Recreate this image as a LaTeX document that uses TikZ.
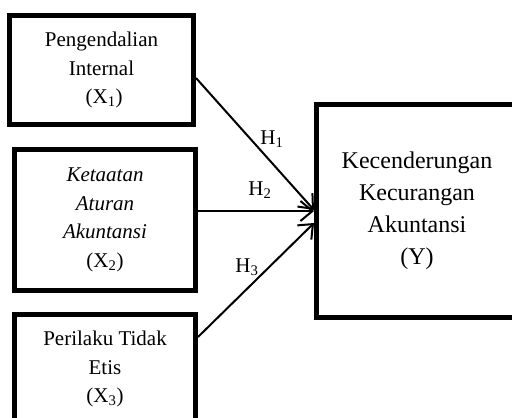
\documentclass[tikz,border=0pt]{standalone}
\usepackage{fontspec}
\setmainfont{Liberation Serif}
\usetikzlibrary{positioning,arrows.meta,calc}
\tikzset{
  varbox/.style={rectangle, draw=black, line width=5pt, align=center, inner sep=2pt,
                 font=\fontsize{21}{28.5}\selectfont},
  depbox/.style={rectangle, draw=black, line width=5pt, align=center, inner sep=2pt,
                 font=\fontsize{24}{32}\selectfont},
  hyparr/.style={-{Straight Barb[length=12pt,width=20pt,line width=2pt]}, line width=2pt},
  hlbl/.style={font=\fontsize{21}{24}\selectfont, inner sep=0pt},
}

\begin{document}
\begin{tikzpicture}[x=1pt,y=-1pt]
\useasboundingbox (0,0) rectangle (512,418);
\node[varbox, minimum width=184pt, minimum height=109pt] (b1) at (101.5,70)
  {Pengendalian\\Internal\\~(X\textsubscript{1})};
\node[varbox, minimum width=181pt, minimum height=141pt] (b2) at (105,220)
  {\itshape Ketaatan\\\itshape Aturan\\\itshape Akuntansi\\(X\textsubscript{2})};
\node[varbox, minimum width=181pt, minimum height=110pt] (b3) at (105,369)
  {Perilaku Tidak\\Etis\\(X\textsubscript{3})};
\node[depbox, minimum width=201pt, minimum height=213pt] (by) at (417,211)
  {Kecenderungan\\Kecurangan\\Akuntansi\\(Y)};
\draw[hyparr] ([yshift=-8pt]b1.east) -- ([yshift=1pt]by.west);
\draw[hyparr] (b2.east |- by.west) -- (by.west);
\draw[hyparr] ([yshift=32pt]b3.east) -- ([yshift=-12pt]by.west);
\node[hlbl] (h1) at (272,139) {H\textsubscript{1}};
\node[hlbl] (h2) at (260,190) {H\textsubscript{2}};
\node[hlbl] (h3) at (247,267) {H\textsubscript{3}};
\end{tikzpicture}
\end{document}
